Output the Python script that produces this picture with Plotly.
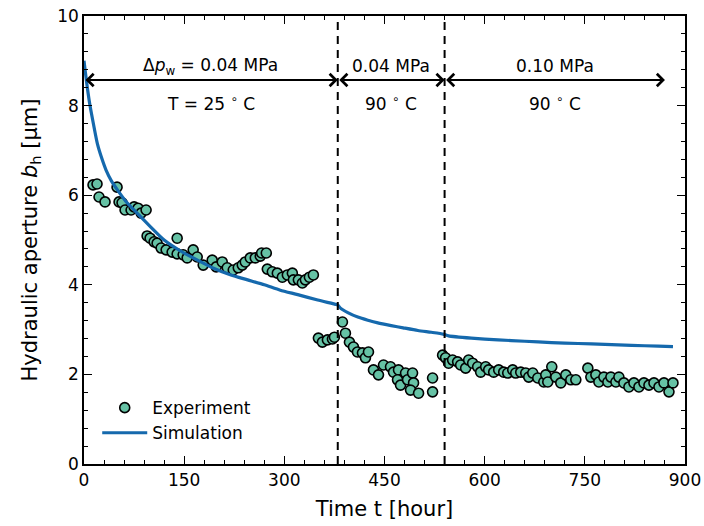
import plotly.graph_objects as go

# ---------------- data ----------------
exp_hours = [13.5, 19.5, 22.5, 31.5, 49.5, 52.5, 57, 61.5, 70.5, 75, 81, 85.5, 93,
             94.5, 99, 105, 109.5, 115.5, 123, 132, 139.5, 139.5, 148.5, 154.5, 163.5,
             169.5, 178.5, 192, 198, 207, 214.5, 223.5, 231, 237, 241.5, 249, 256.5,
             264, 266, 273, 274.5, 282, 289.5, 297, 304.5, 312, 313.5, 321, 327, 331.5,
             337.5, 343.5,
             351, 357, 364.5, 372, 375,
             387, 391.5, 397.5, 403.5, 409.5, 417, 421.5, 426, 433.5, 441, 448.5, 459,
             463.5, 471, 469.5, 474, 481.5, 484.5, 492, 493.5, 489, 501, 522, 522,
             537, 541.5, 546, 552, 559.5, 564, 571.5, 576, 582, 589.5, 594, 601.5, 606,
             613.5, 621, 628.5, 634.5, 642, 646.5, 654, 661.5, 666, 672, 679.5, 688.5,
             691.5, 694.5, 700.5, 706.5, 714, 721.5, 729, 736.5, 754.5, 759, 766.5, 771,
             778.5, 784.5, 789, 796.5, 801, 808.5, 816, 823.5, 831, 838.5, 846, 853.5,
             861, 868.5, 876, 882]
exp_aperture = [6.23, 6.25, 5.96, 5.85, 6.18, 5.85, 5.83, 5.67, 5.67, 5.74, 5.71, 5.60, 5.67,
                5.09, 5.04, 4.96, 4.93, 4.82, 4.78, 4.73, 5.04, 4.69, 4.67, 4.60, 4.78,
                4.62, 4.44, 4.55, 4.40, 4.51, 4.38, 4.33, 4.38, 4.44, 4.51, 4.60, 4.60,
                4.64, 4.71, 4.71, 4.35, 4.29, 4.26, 4.17, 4.22, 4.26, 4.11, 4.11, 4.04, 4.11,
                4.17, 4.22,
                2.81, 2.72, 2.77, 2.79, 2.83,
                3.17, 2.92, 2.72, 2.61, 2.50, 2.48, 2.37, 2.50, 2.10, 1.99, 2.21, 2.17,
                2.05, 2.10, 1.88, 1.76, 2.03, 1.88, 2.03, 1.81, 1.65, 1.58, 1.92, 1.61,
                2.43, 2.37, 2.25, 2.32, 2.28, 2.21, 2.14, 2.32, 2.25, 2.17, 2.05, 2.17, 2.10,
                2.05, 2.10, 2.05, 2.03, 2.10, 2.03, 2.05, 2.03, 1.94, 2.03, 1.92, 1.83,
                1.99, 1.83, 2.17, 1.94, 1.81, 1.99, 1.88, 1.88, 2.14, 1.94, 1.99, 1.83,
                1.94, 1.83, 1.94, 1.83, 1.94, 1.81, 1.72, 1.81, 1.72, 1.81, 1.76, 1.81,
                1.72, 1.81, 1.61, 1.81]

sim_hours = [0, 2, 5, 9, 14, 20, 26, 33, 41, 50, 64.5, 79.5, 100, 120, 144, 170, 194,
             220, 245, 270, 294, 320, 350, 378, 380, 384, 395, 410, 425, 440, 460, 478,
             500, 520, 538, 540, 546, 580, 620, 660, 700, 740, 780, 820, 860, 882]
sim_aperture = [9.0, 8.75, 8.4, 8.0, 7.6, 7.15, 6.85, 6.56, 6.32, 6.12, 5.83, 5.60, 5.29,
                5.00, 4.76, 4.55, 4.37, 4.22, 4.11, 4.00, 3.88, 3.78, 3.66, 3.56, 3.55,
                3.48, 3.38, 3.28, 3.21, 3.15, 3.09, 3.04, 2.98, 2.94, 2.90, 2.89, 2.86,
                2.81, 2.77, 2.74, 2.71, 2.69, 2.67, 2.65, 2.63, 2.62]

phase_bounds = [380, 540]
phase_start = [0, 380, 540]
phase_end = [380, 540, 870]
phase_top = ["Δ<i>p</i><sub>w</sub> = 0.04 MPa", "0.04 MPa", "0.10 MPa"]
phase_bottom = ["T = 25 <sup>∘</sup> C", "90 <sup>∘</sup> C", "90 <sup>∘</sup> C"]
arrow_level = 8.57
top_level = 8.88
bottom_level = 8.05

x_ticks = [0, 150, 300, 450, 600, 750, 900]
y_ticks = [0, 2, 4, 6, 8, 10]

FONT = "DejaVu Sans"
GREEN = "#66c2a5"
BLUE = "#1569ad"

fig = go.Figure()
fig.add_trace(go.Scatter(
    x=exp_hours, y=exp_aperture, mode="markers", name="Experiment",
    marker=dict(size=10, color=GREEN, line=dict(color="black", width=1.6)),
))
fig.add_trace(go.Scatter(
    x=sim_hours, y=sim_aperture, mode="lines", name="Simulation",
    line=dict(color=BLUE, width=3.2, shape="spline", smoothing=0.6),
))

for b in phase_bounds:
    fig.add_vline(x=b, line=dict(color="black", width=2, dash="8px,6px"), layer="above")

for s, e, t, btxt in zip(phase_start, phase_end, phase_top, phase_bottom):
    fig.add_annotation(x=e, y=arrow_level, ax=s, ay=arrow_level, axref="x", ayref="y",
                       xref="x", yref="y", text="", showarrow=True,
                       arrowhead=4, arrowside="end+start", arrowsize=1.2,
                       arrowwidth=2, arrowcolor="black")
    mid = (s + e) / 2
    fig.add_annotation(x=mid, y=top_level, text=t, showarrow=False,
                       font=dict(family=FONT, size=17, color="black"))
    fig.add_annotation(x=mid, y=bottom_level, text=btxt, showarrow=False,
                       font=dict(family=FONT, size=17, color="black"))

axis_common = dict(
    showline=True, linecolor="black", linewidth=1.5, mirror="ticks",
    ticks="inside", ticklen=8, tickwidth=1.3, tickcolor="black",
    showgrid=False, zeroline=False, automargin=False,
    tickfont=dict(family=FONT, size=17, color="black"),
)

fig.update_xaxes(range=[0, 900], tickvals=x_ticks,
                 minor=dict(ticks="inside", ticklen=4, tickwidth=1, tickcolor="black",
                            dtick=30, tick0=0, showgrid=False),
                 title=dict(text="Time t [hour]", font=dict(family=FONT, size=21, color="black"),
                            standoff=12),
                 **axis_common)
fig.update_yaxes(range=[0, 10], tickvals=y_ticks,
                 minor=dict(ticks="inside", ticklen=4, tickwidth=1, tickcolor="black",
                            dtick=0.4, tick0=0, showgrid=False),
                 title=dict(text="Hydraulic aperture <i>b</i><sub>h</sub> [µm]",
                            font=dict(family=FONT, size=21, color="black"), standoff=14),
                 **axis_common)

fig.update_layout(
    width=704, height=526,
    margin=dict(l=84, r=19, t=16, b=62),
    plot_bgcolor="white", paper_bgcolor="white",
    font=dict(family=FONT, size=17, color="black"),
    showlegend=True,
    legend=dict(x=0.022, y=0.165, xanchor="left", yanchor="top",
                bgcolor="rgba(0,0,0,0)", font=dict(family=FONT, size=17),
                itemwidth=45, tracegroupgap=0),
)

fig.write_html("out.html")
